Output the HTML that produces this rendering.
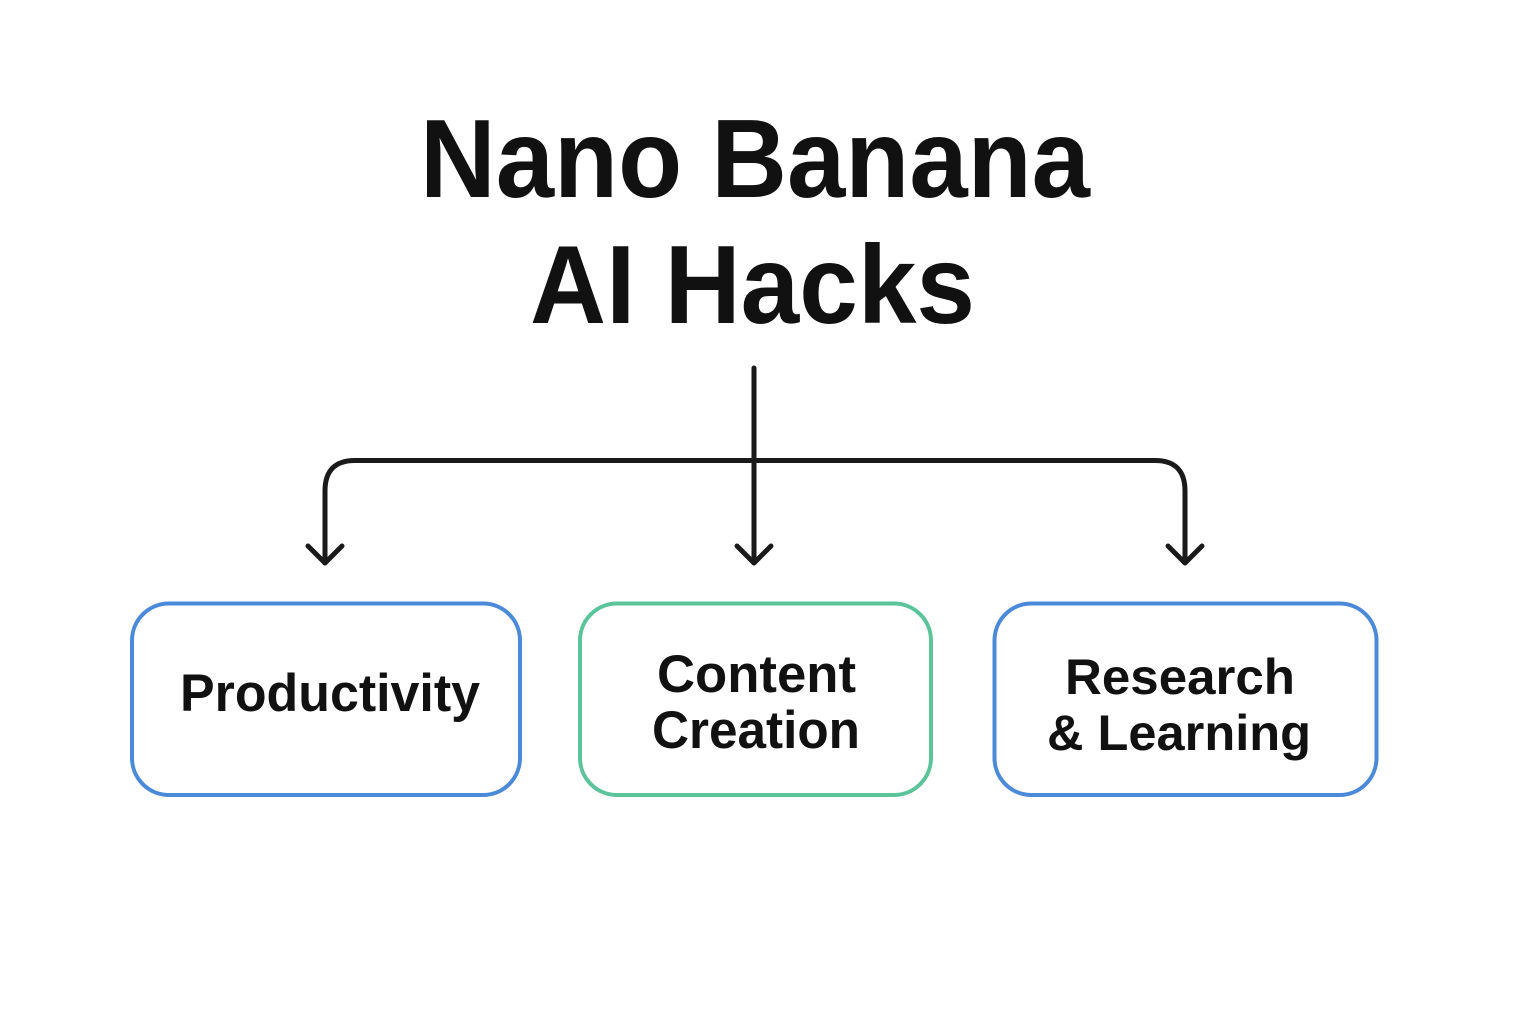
<!DOCTYPE html>
<html>
<head>
<meta charset="utf-8">
<style>
  html, body { margin: 0; padding: 0; background: #ffffff; }
  body { width: 1536px; height: 1024px; overflow: hidden; }
  svg { display: block; }
  text { font-family: "Liberation Sans", "DejaVu Sans", sans-serif; font-weight: bold; fill: #111111; }
</style>
</head>
<body>
<svg width="1536" height="1024" viewBox="0 0 1536 1024" xmlns="http://www.w3.org/2000/svg">
  <rect x="0" y="0" width="1536" height="1024" fill="#ffffff"/>

  <!-- Title -->
  <text x="420" y="197" font-size="111" textLength="670" lengthAdjust="spacingAndGlyphs">Nano Banana</text>
  <text x="530" y="323" font-size="111" textLength="445" lengthAdjust="spacingAndGlyphs">AI Hacks</text>

  <!-- Connectors -->
  <g fill="none" stroke="#1a1a1a" stroke-width="5" stroke-linecap="round" stroke-linejoin="round">
    <path d="M754 368 L754 563"/>
    <path d="M325 563 L325 491 Q325 460.5 355 460.5 L1155 460.5 Q1185 460.5 1185 491 L1185 563"/>
    <path d="M308 546 L325 563 L342 546"/>
    <path d="M737 546 L754 563 L771 546"/>
    <path d="M1168 546 L1185 563 L1202 546"/>
  </g>

  <!-- Boxes -->
  <rect x="132" y="603.5" width="388" height="191.5" rx="37" ry="37" fill="#ffffff" stroke="#4a8ad8" stroke-width="4"/>
  <rect x="580" y="603.5" width="351" height="191.5" rx="37" ry="37" fill="#ffffff" stroke="#5bc49b" stroke-width="4"/>
  <rect x="994.5" y="603.5" width="382" height="191.5" rx="37" ry="37" fill="#ffffff" stroke="#4a8ad8" stroke-width="4"/>

  <!-- Box labels -->
  <text x="180" y="711" font-size="53" textLength="300" lengthAdjust="spacingAndGlyphs">Productivity</text>
  <text x="657" y="692" font-size="53" textLength="199" lengthAdjust="spacingAndGlyphs">Content</text>
  <text x="652" y="748" font-size="53" textLength="208" lengthAdjust="spacingAndGlyphs">Creation</text>
  <text x="1065" y="694" font-size="50" textLength="230" lengthAdjust="spacingAndGlyphs">Research</text>
  <text x="1047" y="750" font-size="50" textLength="264" lengthAdjust="spacingAndGlyphs">&amp; Learning</text>
</svg>
</body>
</html>
